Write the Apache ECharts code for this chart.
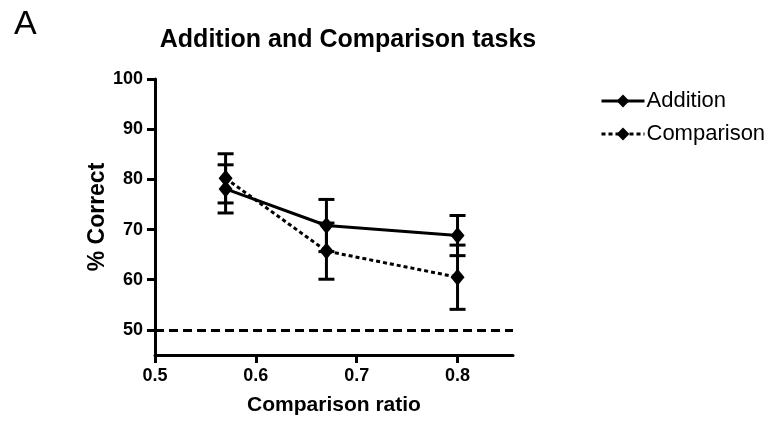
<!DOCTYPE html>
<html><head><meta charset="utf-8">
<script src="https://cdn.jsdelivr.net/npm/echarts@6/dist/echarts.min.js"></script>
<style>html,body{margin:0;padding:0;background:#fff}#c{width:766px;height:426px}</style>
</head><body><div id="c"></div>
<script>
const ratios = [0.57, 0.67, 0.8];
const additionMean = [78.1, 70.8, 68.8];
const additionErr = [4.8, 5.2, 4.0];
const comparisonMean = [80.2, 65.7, 60.5];
const comparisonErr = [4.9, 5.6, 6.4];
const chanceLevel = 50;
const yTicks = [50, 60, 70, 80, 90, 100];
const xTicks = [0.5, 0.6, 0.7, 0.8];

const FONT = 'Liberation Sans, Arial, sans-serif';
const chart = echarts.init(document.getElementById('c'));

function errData(mean, err) {
  return ratios.map((x, i) => [x, mean[i] - err[i], mean[i] + err[i]]);
}
function errRender(params, api) {
  const x = api.value(0);
  const lo = api.coord([x, api.value(1)]);
  const hi = api.coord([x, api.value(2)]);
  const w = 8;
  const st = { stroke: '#000', lineWidth: 3 };
  return { type: 'group', children: [
    { type: 'line', shape: { x1: lo[0], y1: lo[1], x2: hi[0], y2: hi[1] }, style: st },
    { type: 'line', shape: { x1: lo[0] - w, y1: lo[1], x2: lo[0] + w, y2: lo[1] }, style: st },
    { type: 'line', shape: { x1: hi[0] - w, y1: hi[1], x2: hi[0] + w, y2: hi[1] }, style: st }
  ]};
}

chart.setOption({
  animation: false,
  textStyle: { fontFamily: FONT },
  title: [
    { text: 'Addition and Comparison tasks', left: 343, top: 23, textAlign: 'center',
      textStyle: { fontFamily: FONT, fontSize: 25, fontWeight: 'bold', color: '#000' } },
    { text: 'A', left: 9, top: 3, textStyle: { fontFamily: FONT, fontSize: 34, fontWeight: 'normal', color: '#000' } }
  ],
  legend: {
    left: 595, top: 85, orient: 'vertical', itemGap: 11, itemWidth: 43, itemHeight: 16,
    lineStyle: { width: 3 },
    textStyle: { fontFamily: FONT, fontSize: 22, color: '#000', padding: [0, 0, 0, -3] },
    data: ['Addition', 'Comparison']
  },
  grid: { left: 155, right: 253, top: 79, bottom: 71 },
  xAxis: {
    type: 'value', min: 0.5, max: 0.855,
    name: 'Comparison ratio', nameLocation: 'middle', nameGap: 40,
    nameTextStyle: { fontFamily: FONT, fontSize: 21, fontWeight: 'bold', color: '#000' },
    axisLine: { lineStyle: { color: '#000', width: 3 } },
    axisTick: { customValues: xTicks, length: 8, lineStyle: { width: 3, color: '#000' } },
    axisLabel: { customValues: xTicks, fontFamily: FONT, fontSize: 18, fontWeight: 'bold', color: '#000', margin: 12,
      formatter: v => v.toFixed(1) },
    splitLine: { show: false }
  },
  yAxis: {
    type: 'value', min: 45, max: 100,
    name: '% Correct', nameLocation: 'middle', nameGap: 46,
    nameTextStyle: { fontFamily: FONT, fontSize: 23, fontWeight: 'bold', color: '#000' },
    axisLine: { show: true, lineStyle: { color: '#000', width: 3 } },
    axisTick: { show: true, customValues: yTicks, length: 8, lineStyle: { width: 3, color: '#000' } },
    axisLabel: { customValues: yTicks, fontFamily: FONT, fontSize: 18, fontWeight: 'bold', color: '#000', margin: 12 },
    splitLine: { show: false }
  },
  series: [
    { name: 'Addition', type: 'line', data: ratios.map((x, i) => [x, additionMean[i]]),
      symbol: 'diamond', symbolSize: [14, 17], z: 5,
      lineStyle: { color: '#000', width: 3, type: 'solid' }, itemStyle: { color: '#000' },
      markLine: { silent: true, symbol: 'none', label: { show: false },
        lineStyle: { color: '#000', width: 3, type: [9, 5] }, data: [{ yAxis: chanceLevel }] } },
    { name: 'Comparison', type: 'line', data: ratios.map((x, i) => [x, comparisonMean[i]]),
      symbol: 'diamond', symbolSize: [14, 17], z: 5,
      lineStyle: { color: '#000', width: 3, type: [4, 3] }, itemStyle: { color: '#000' } },
    { type: 'custom', renderItem: errRender, data: errData(additionMean, additionErr), z: 4, silent: true },
    { type: 'custom', renderItem: errRender, data: errData(comparisonMean, comparisonErr), z: 4, silent: true }
  ]
});
</script></body></html>
